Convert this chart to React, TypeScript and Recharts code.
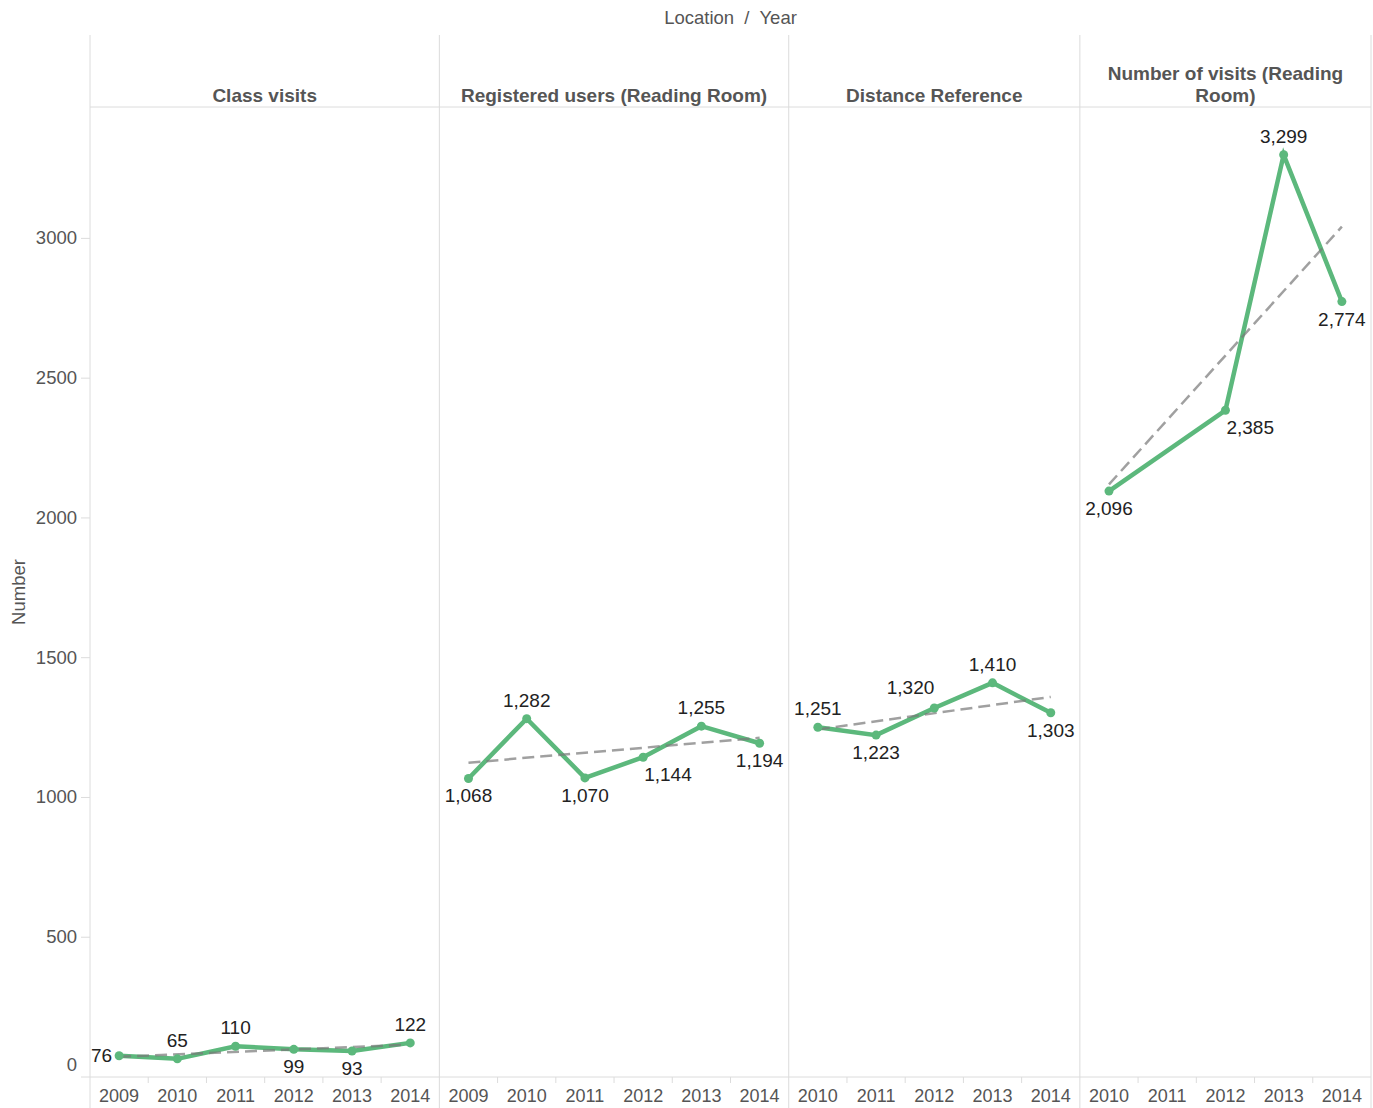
import React from "react";
import { LineChart, Line, XAxis, YAxis, ReferenceLine, LabelList } from "recharts";

const panelNames = [
  "Class visits",
  "Registered users (Reading Room)",
  "Distance Reference",
  "Number of visits (Reading Room)",
];

const classYears = [2009, 2010, 2011, 2012, 2013, 2014];
const classValues = [76, 65, 110, 99, 93, 122];

const regYears = [2009, 2010, 2011, 2012, 2013, 2014];
const regValues = [1068, 1282, 1070, 1144, 1255, 1194];

const distYears = [2010, 2011, 2012, 2013, 2014];
const distValues = [1251, 1223, 1320, 1410, 1303];

const visitYears = [2010, 2011, 2012, 2013, 2014];
const visitValues = [2096, null, 2385, 3299, 2774];

const yTicks = [0, 500, 1000, 1500, 2000, 2500, 3000];

// where each point label sits relative to its mark
const classPlace = ["left", "top", "top", "bottom", "bottom", "top"];
const regPlace = ["bottom", "top", "bottom", "bottomRight", "top", "bottom"];
const distPlace = ["top", "bottom", "topLeft", "top", "bottom"];
const visitPlace = ["bottom", "bottom", "bottomRight", "top", "bottom"];

const GREEN = "#5cb87c";
const GRID = "#dcdcdc";
const AXIS_TEXT = "#555";
const FONT = "'Liberation Sans', Arial, sans-serif";

const W = 1373;
const H = 1108;
const Y_AXIS_W = 90;
const RIGHT = 2;
const HEADER_TOP = 35;
const HEADER_H = 72;
const X_AXIS_H = 31;
const PLOT_TOP = HEADER_TOP + HEADER_H;
const PLOT_BOTTOM = H - X_AXIS_H;

const groups = [
  { key: "cls", years: classYears, values: classValues, place: classPlace },
  { key: "reg", years: regYears, values: regValues, place: regPlace },
  { key: "dist", years: distYears, values: distValues, place: distPlace },
  { key: "vis", years: visitYears, values: visitValues, place: visitPlace },
];

const rows: any[] = [];
const places: string[] = [];
const panelStarts: number[] = [];
const panelCols: number[] = [];

groups.forEach((g) => {
  const start = rows.length;
  panelStarts.push(start);
  panelCols.push(g.years.length);
  g.years.forEach((yr, i) => {
    rows.push({ idx: rows.length, year: yr, [g.key]: g.values[i] });
    places.push(g.place[i]);
  });
  // linear trend (least squares) like Tableau's trend line
  const pts = g.values
    .map((v, i) => [start + i, v] as [number, number | null])
    .filter((p) => p[1] != null) as [number, number][];
  const n = pts.length;
  const mx = pts.reduce((s, p) => s + p[0], 0) / n;
  const my = pts.reduce((s, p) => s + p[1], 0) / n;
  let sxy = 0;
  let sxx = 0;
  pts.forEach(([x, y]) => {
    sxy += (x - mx) * (y - my);
    sxx += (x - mx) * (x - mx);
  });
  const slope = sxy / sxx;
  const first = pts[0][0];
  const last = pts[n - 1][0];
  rows[first][g.key + "T"] = my + slope * (first - mx);
  rows[last][g.key + "T"] = my + slope * (last - mx);
});

const total = rows.length;
const COL = (W - Y_AXIS_W - RIGHT) / total;
const boundaries = [...panelStarts.map((s) => s - 0.5), total - 0.5];

// simple word wrap measured on a canvas
let ctx: CanvasRenderingContext2D | null = null;
function wrap(text: string, maxW: number, font: string): string[] {
  if (!ctx) ctx = document.createElement("canvas").getContext("2d");
  if (!ctx) return [text];
  ctx.font = font;
  const words = text.split(" ");
  const lines: string[] = [];
  let cur = "";
  words.forEach((w) => {
    const test = cur ? cur + " " + w : w;
    if (cur && ctx!.measureText(test).width > maxW) {
      lines.push(cur);
      cur = w;
    } else cur = test;
  });
  if (cur) lines.push(cur);
  return lines;
}

const renderLabel = (props: any) => {
  const { x, y, value, index } = props;
  if (value == null || x == null || y == null) return null;
  const p = places[index];
  let dx = 0;
  let dy = -12;
  let anchor: "middle" | "start" | "end" = "middle";
  if (p === "bottom") dy = 24;
  if (p === "left") {
    dx = -7;
    dy = 6;
    anchor = "end";
  }
  if (p === "topLeft") {
    dy = -14;
    anchor = "end";
  }
  if (p === "bottomRight") {
    dx = 1;
    dy = 24;
    anchor = "start";
  }
  return (
    <text x={x + dx} y={y + dy} textAnchor={anchor} fontSize={19} fill="#222">
      {Number(value).toLocaleString("en-US")}
    </text>
  );
};

const BottomTick = (props: any) => {
  const { x, payload } = props;
  const v = payload.value;
  const isStart = panelStarts.includes(v);
  return (
    <g>
      <text x={x} y={PLOT_BOTTOM + 25} textAnchor="middle" fontSize={18} fill={AXIS_TEXT}>
        {rows[v] ? rows[v].year : ""}
      </text>
      <line
        x1={x - COL / 2}
        x2={x - COL / 2}
        y1={PLOT_BOTTOM}
        y2={isStart ? H : PLOT_BOTTOM + 6}
        stroke={GRID}
      />
      {v === total - 1 && (
        <line x1={x + COL / 2} x2={x + COL / 2} y1={PLOT_BOTTOM} y2={H} stroke={GRID} />
      )}
    </g>
  );
};

const HeaderTick = (props: any) => {
  const { x, payload } = props;
  const k = boundaries.indexOf(payload.value);
  if (k < 0 || k >= panelNames.length) return <g />;
  const w = panelCols[k] * COL;
  const lines = wrap(panelNames[k], w - 30, `bold 19px ${FONT}`);
  const baseY = PLOT_TOP - 5 - (lines.length - 1) * 22;
  return (
    <text
      x={x + w / 2}
      y={baseY}
      textAnchor="middle"
      fontSize={19}
      fontWeight="bold"
      fill={AXIS_TEXT}
    >
      {lines.map((l, i) => (
        <tspan key={i} x={x + w / 2} y={baseY + i * 22}>
          {l}
        </tspan>
      ))}
    </text>
  );
};

const YTick = (props: any) => {
  const { x, y, payload } = props;
  const yy = payload.value === 0 ? y - 12 : y;
  return (
    <text x={x} y={yy + 6} textAnchor="end" fontSize={18.5} fill={AXIS_TEXT}>
      {payload.value}
    </text>
  );
};

export default function App() {
  return (
    <div
      style={{
        position: "absolute",
        left: 0,
        top: 0,
        width: W,
        height: H,
        background: "#fff",
        fontFamily: FONT,
      }}
    >
      <LineChart
        width={W}
        height={H}
        data={rows}
        margin={{ top: HEADER_TOP, right: RIGHT, bottom: 0, left: 0 }}
      >
        <XAxis
          xAxisId="top"
          orientation="top"
          type="number"
          dataKey="idx"
          domain={[-0.5, total - 0.5]}
          ticks={boundaries}
          interval={0}
          height={HEADER_H}
          tickSize={HEADER_H}
          tickLine={{ stroke: GRID }}
          axisLine={{ stroke: GRID }}
          tick={HeaderTick}
        />
        <XAxis
          xAxisId="bottom"
          type="number"
          dataKey="idx"
          domain={[-0.5, total - 0.5]}
          ticks={rows.map((r) => r.idx)}
          interval={0}
          height={X_AXIS_H}
          tickLine={false}
          axisLine={{ stroke: GRID }}
          tick={BottomTick}
        />
        <YAxis
          type="number"
          domain={[0, 3470]}
          ticks={yTicks}
          interval={0}
          width={Y_AXIS_W}
          tickSize={9}
          tickMargin={4}
          tickLine={{ stroke: GRID }}
          axisLine={{ stroke: GRID }}
          tick={YTick}
        />
        {boundaries.slice(1).map((b) => (
          <ReferenceLine key={b} xAxisId="bottom" x={b} stroke={GRID} ifOverflow="visible" />
        ))}
        {groups.map((g) => (
          <Line
            key={g.key}
            xAxisId="bottom"
            dataKey={g.key}
            stroke={GREEN}
            strokeWidth={4.5}
            connectNulls
            dot={{ r: 4.5, fill: GREEN, stroke: GREEN, strokeWidth: 0 }}
            activeDot={false}
            isAnimationActive={false}
          >
            <LabelList dataKey={g.key} content={renderLabel} />
          </Line>
        ))}
        {groups.map((g) => (
          <Line
            key={g.key + "T"}
            xAxisId="bottom"
            dataKey={g.key + "T"}
            stroke="#777"
            strokeOpacity={0.7}
            strokeWidth={2.5}
            strokeDasharray="12 6"
            connectNulls
            dot={false}
            activeDot={false}
            isAnimationActive={false}
          />
        ))}
      </LineChart>
      <svg
        width={W}
        height={H}
        style={{ position: "absolute", left: 0, top: 0, pointerEvents: "none" }}
      >
        <text
          x={(Y_AXIS_W + W - RIGHT) / 2}
          y={24}
          textAnchor="middle"
          fontSize={18.5}
          fill={AXIS_TEXT}
          style={{ whiteSpace: "pre" }}
        >
          {"Location  /  Year"}
        </text>
        <text
          x={25}
          y={(PLOT_TOP + PLOT_BOTTOM) / 2}
          transform={`rotate(-90 25 ${(PLOT_TOP + PLOT_BOTTOM) / 2})`}
          textAnchor="middle"
          fontSize={18.5}
          fill={AXIS_TEXT}
        >
          Number
        </text>
      </svg>
    </div>
  );
}
